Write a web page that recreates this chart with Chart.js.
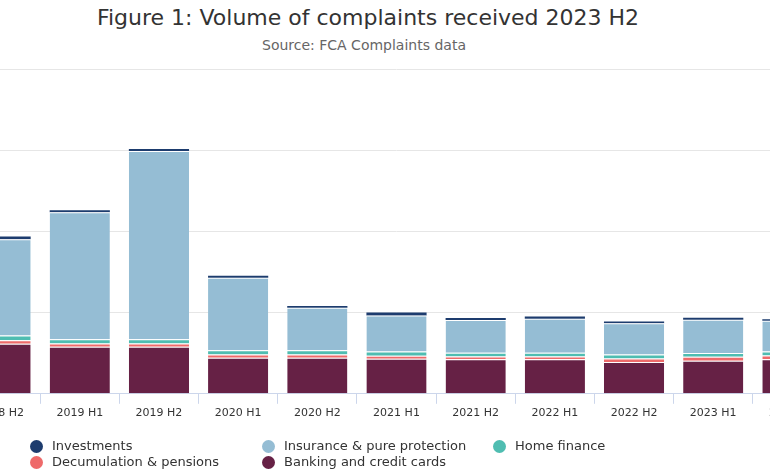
<!DOCTYPE html>
<html>
<head>
<meta charset="utf-8">
<script src="https://cdn.jsdelivr.net/npm/chart.js@4/dist/chart.umd.min.js"></script>
<style>
  html, body { margin:0; padding:0; background:#ffffff; width:770px; height:470px; overflow:hidden; position:relative; font-family:"DejaVu Sans", Verdana, sans-serif; }
  #title { position:absolute; left:0; width:736px; top:4px; text-align:center; font-size:22px; color:#333333; line-height:28px; white-space:nowrap; }
  #subtitle { position:absolute; left:0; width:728px; top:36px; text-align:center; font-size:14px; color:#666666; line-height:18px; white-space:nowrap; }
  #wrap { position:absolute; left:-39px; top:0; width:871px; height:470px; }
  #legend { position:absolute; left:30px; top:438px; width:720px; }
  .item { position:absolute; font-size:13px; color:#333333; line-height:16px; white-space:nowrap; }
  .dot { position:absolute; left:0; top:2px; width:13px; height:13px; border-radius:50%; }
  .lbl { position:absolute; left:22px; top:0; }
</style>
</head>
<body>
<div id="title">Figure 1: Volume of complaints received 2023 H2</div>
<div id="subtitle">Source: FCA Complaints data</div>
<div id="wrap"><canvas id="c"></canvas></div>
<div id="legend"></div>
<script>
// Categories (half-years)
const categories = ['2018 H2','2019 H1','2019 H2','2020 H1','2020 H2','2021 H1','2021 H2','2022 H1','2022 H2','2023 H1','2023 H2'];
// Complaints received (thousands)
const investments  = [35, 25, 25, 25, 22, 35, 25, 28, 22, 25, 18];
const insurance    = [1184, 1564, 2318, 894, 524, 444, 404, 419, 384, 409, 379];
const homeFinance  = [58, 53, 53, 53, 53, 53, 46, 46, 48, 48, 48];
const decumulation = [43, 38, 38, 38, 38, 36, 36, 36, 45, 48, 48];
const banking      = [617, 580, 580, 445, 445, 432, 424, 424, 391, 408, 424];
// Series names and colours
const seriesNames  = ['Investments','Insurance & pure protection','Home finance','Decumulation & pensions','Banking and credit cards'];
const seriesColors = ['#1d3c6e','#95bdd4','#4fbdb1','#ee6a6a','#662145'];
const yTicks = [0, 1000, 2000, 3000, 4000];

const seriesData = [investments, insurance, homeFinance, decumulation, banking];

// datasets bottom-to-top: banking first
const datasets = [];
for (let i = seriesNames.length - 1; i >= 0; i--) {
  datasets.push({
    label: seriesNames[i],
    data: seriesData[i],
    backgroundColor: seriesColors[i],
    borderColor: 'rgba(255,255,255,0.9)',
    borderWidth: i === 0 ? 0 : { top: 1, right: 0, bottom: 0, left: 0 },
    borderSkipped: false,
    categoryPercentage: 1.0,
    barPercentage: 0.76
  });
}

new Chart(document.getElementById('c'), {
  type: 'bar',
  data: { labels: categories, datasets: datasets },
  options: {
    responsive: true,
    maintainAspectRatio: false,
    animation: false,
    layout: { padding: { top: 69, bottom: 47, left: 0, right: 0 } },
    plugins: { legend: { display: false }, title: { display: false }, tooltip: { enabled: false } },
    scales: {
      x: {
        stacked: true,
        grid: { display: true, drawOnChartArea: false, drawTicks: true, tickLength: 10, color: '#ccd6eb', offset: true },
        border: { display: true, color: '#ccd6eb', width: 1 },
        ticks: { color: '#333333', font: { family: 'DejaVu Sans', size: 11 }, padding: 3, maxRotation: 0, autoSkip: false }
      },
      y: {
        stacked: true,
        min: yTicks[0],
        max: yTicks[yTicks.length - 1],
        afterBuildTicks: (s) => { s.ticks = yTicks.map(v => ({ value: v })); },
        ticks: { display: false },
        grid: { color: '#e6e6e6', drawTicks: false },
        border: { display: false }
      }
    }
  }
});

// HTML legend, 3 columns, row-major
const legend = document.getElementById('legend');
const colX = [0, 232, 463];
seriesNames.forEach((name, i) => {
  const it = document.createElement('div');
  it.className = 'item';
  it.style.left = colX[i % 3] + 'px';
  it.style.top = (Math.floor(i / 3) * 16) + 'px';
  const d = document.createElement('span');
  d.className = 'dot';
  d.style.background = seriesColors[i];
  const t = document.createElement('span');
  t.className = 'lbl';
  t.textContent = name;
  it.appendChild(d); it.appendChild(t);
  legend.appendChild(it);
});
</script>
</body>
</html>
